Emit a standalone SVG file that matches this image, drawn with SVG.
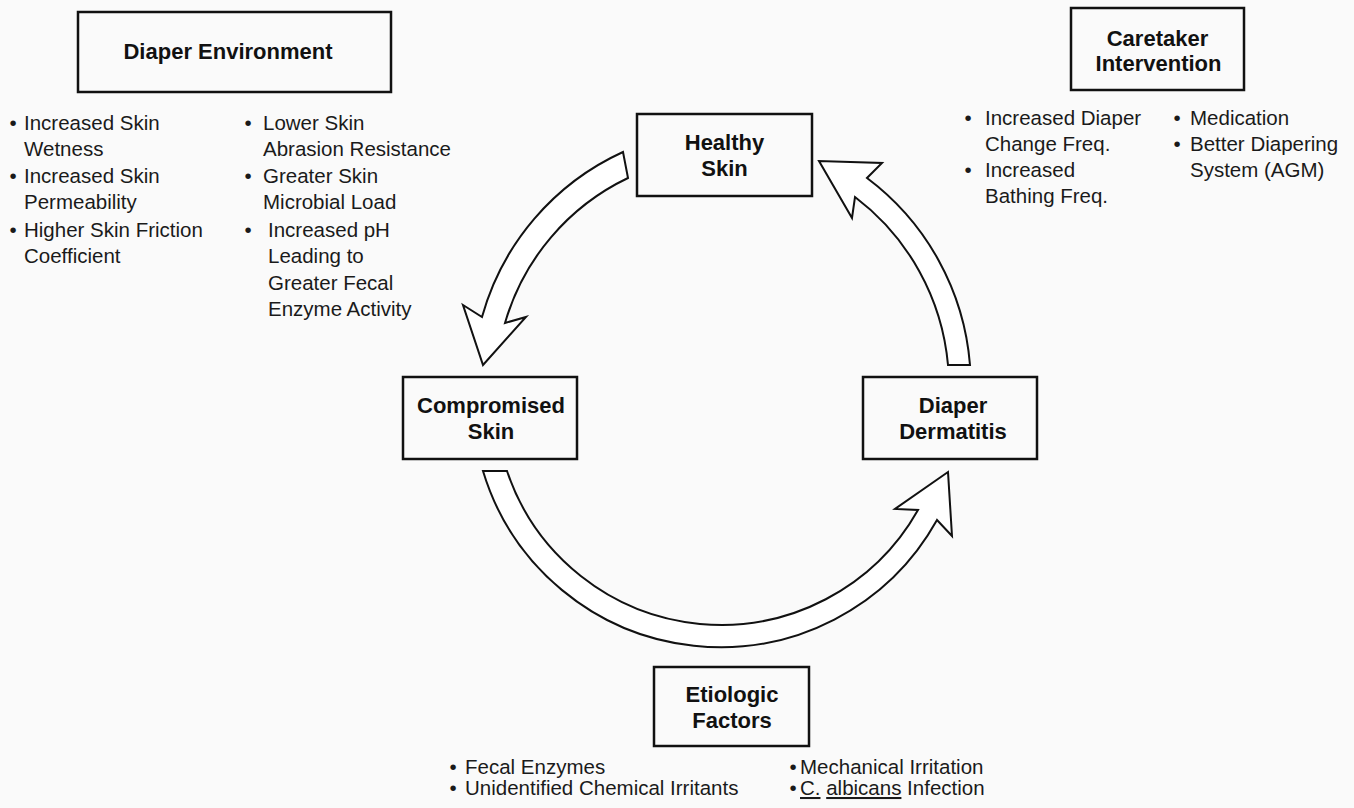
<svg xmlns="http://www.w3.org/2000/svg" width="1354" height="808" viewBox="0 0 1354 808">
<style>
.box{fill:none;stroke:#111;stroke-width:2.5}
.t{font-family:"Liberation Sans",Arial,sans-serif;font-size:20.5px;fill:#1a1a1a}
.h{font-family:"Liberation Sans",Arial,sans-serif;font-size:22px;font-weight:bold;fill:#111;text-anchor:middle}
.arr{fill:#fff;stroke:#111;stroke-width:2;stroke-linejoin:miter}
</style>
<rect width="1354" height="808" fill="#fafafa"/>

<g id="connectors">
<path class="arr" d="M 623,152 A 257 257 0 0 0 482,317 L 463,305 L 483,365 L 526,317 L 505,323 A 232 232 0 0 1 628,178 Z"/>
<path class="arr" d="M 507,471 A 226 226 0 0 0 918,510 L 895,509 L 948,472 L 952,536 L 937,520 A 248 248 0 0 1 483,471 Z"/>
<path class="arr" d="M 948,365 L 970,365 A 259 259 0 0 0 867,178 L 882,163 L 819,161 L 852,218 L 855,197 A 237 237 0 0 1 948,365 Z"/>
</g>

<g id="diaper-environment">
<rect class="box" x="78" y="12" width="313" height="80"/>
<text class="h" x="228" y="59">Diaper Environment</text>
<text class="t" x="9.5" y="130">•</text><text class="t" x="24" y="130">Increased Skin</text>
<text class="t" x="24" y="156">Wetness</text>
<text class="t" x="9.5" y="183">•</text><text class="t" x="24" y="183">Increased Skin</text>
<text class="t" x="24" y="209">Permeability</text>
<text class="t" x="9.5" y="237">•</text><text class="t" x="24" y="237">Higher Skin Friction</text>
<text class="t" x="24" y="263">Coefficient</text>
<text class="t" x="244.5" y="130">•</text><text class="t" x="263" y="130">Lower Skin</text>
<text class="t" x="263" y="156">Abrasion Resistance</text>
<text class="t" x="244.5" y="183">•</text><text class="t" x="263" y="183">Greater Skin</text>
<text class="t" x="263" y="209">Microbial Load</text>
<text class="t" x="244.5" y="237">•</text><text class="t" x="268" y="237">Increased pH</text>
<text class="t" x="268" y="263">Leading to</text>
<text class="t" x="268" y="290">Greater Fecal</text>
<text class="t" x="268" y="316">Enzyme Activity</text>
</g>

<g id="caretaker-intervention">
<rect class="box" x="1071" y="8" width="173" height="82"/>
<text class="h" x="1157.5" y="46">Caretaker</text>
<text class="h" x="1158.5" y="71">Intervention</text>
<text class="t" x="964.5" y="125">•</text><text class="t" x="985" y="125">Increased Diaper</text>
<text class="t" x="985" y="151">Change Freq.</text>
<text class="t" x="964.5" y="177">•</text><text class="t" x="985" y="177">Increased</text>
<text class="t" x="985" y="203">Bathing Freq.</text>
<text class="t" x="1173.5" y="125">•</text><text class="t" x="1190" y="125">Medication</text>
<text class="t" x="1173.5" y="151">•</text><text class="t" x="1190" y="151">Better Diapering</text>
<text class="t" x="1190" y="177">System (AGM)</text>
</g>

<g id="healthy-skin">
<rect class="box" x="637" y="114" width="175" height="82"/>
<text class="h" x="724.5" y="150">Healthy</text>
<text class="h" x="724.5" y="176">Skin</text>
</g>

<g id="compromised-skin">
<rect class="box" x="403" y="377" width="174" height="82"/>
<text class="h" x="491" y="413">Compromised</text>
<text class="h" x="491" y="439">Skin</text>
</g>

<g id="diaper-dermatitis">
<rect class="box" x="863" y="377" width="174" height="82"/>
<text class="h" x="953" y="413">Diaper</text>
<text class="h" x="953" y="439">Dermatitis</text>
</g>

<g id="etiologic-factors">
<rect class="box" x="654" y="667" width="155" height="79"/>
<text class="h" x="732" y="702">Etiologic</text>
<text class="h" x="732" y="728">Factors</text>
<text class="t" x="449.5" y="774">•</text><text class="t" x="465" y="774">Fecal Enzymes</text>
<text class="t" x="449.5" y="795">•</text><text class="t" x="465" y="795">Unidentified Chemical Irritants</text>
<text class="t" x="789.5" y="774">•</text><text class="t" x="800" y="774">Mechanical Irritation</text>
<text class="t" x="789.5" y="795">•</text><text class="t" x="800" y="795"><tspan text-decoration="underline">C.</tspan> <tspan text-decoration="underline">albicans</tspan> Infection</text>
</g>
</svg>
